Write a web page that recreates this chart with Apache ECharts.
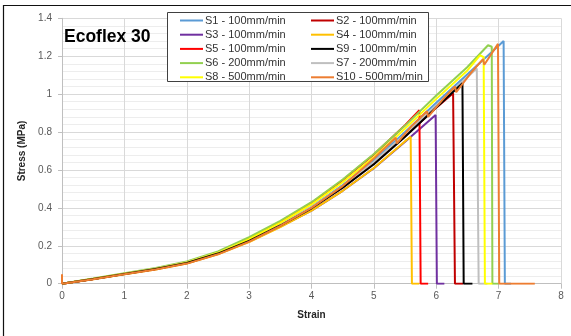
<!DOCTYPE html>
<html>
<head>
<meta charset="utf-8">
<script src="https://cdn.jsdelivr.net/npm/echarts@6/dist/echarts.min.js"></script>
<style>
  html, body { margin: 0; padding: 0; background: #fff; }
  #chart { width: 571px; height: 336px; }
</style>
</head>
<body>
<div id="chart"></div>
<script>
// ---- Data: [strain, stress (MPa)] ----
const seriesNames = ['S1 - 100mm/min', 'S2 - 100mm/min', 'S3 - 100mm/min', 'S4 - 100mm/min', 'S5 - 100mm/min',
                     'S6 - 200mm/min', 'S7 - 200mm/min', 'S8 - 500mm/min', 'S9 - 100mm/min', 'S10 - 500mm/min'];
const legendLeft = ['S1 - 100mm/min', 'S3 - 100mm/min', 'S5 - 100mm/min', 'S6 - 200mm/min', 'S8 - 500mm/min'];
const legendRight = ['S2 - 100mm/min', 'S4 - 100mm/min', 'S9 - 100mm/min', 'S7 - 200mm/min', 'S10 - 500mm/min'];
const seriesColors = ['#5B9BD5', '#C00000', '#7030A0', '#FFC000', '#FF0000', '#92D050', '#BFBFBF', '#FFFF00', '#000000', '#ED7D31'];

const s1 = [[0,0],[0.5,0.025],[1,0.051],[1.5,0.077],[2,0.109],[2.5,0.158],[3,0.230],[3.5,0.313],[4,0.405],[4.5,0.520],[5,0.650],[5.5,0.800],[6,0.955],[6.5,1.105],[7,1.255],[7.08,1.280],[7.10,0],[7.20,0]];
const s2 = [[0,0],[0.5,0.025],[1,0.052],[1.5,0.078],[2,0.110],[2.5,0.160],[3,0.229],[3.5,0.311],[4,0.400],[4.5,0.508],[5,0.633],[5.5,0.778],[6,0.928],[6.27,1.005],[6.30,0],[6.43,0]];
const s3 = [[0,0],[0.5,0.025],[1,0.051],[1.5,0.077],[2,0.108],[2.5,0.158],[3,0.222],[3.5,0.301],[4,0.385],[4.5,0.490],[5,0.609],[5.5,0.749],[5.99,0.890],[6.01,0],[6.13,0]];
const s4 = [[0,0],[0.5,0.024],[1,0.050],[1.5,0.075],[2,0.106],[2.5,0.155],[3,0.219],[3.5,0.298],[4,0.385],[4.5,0.490],[5,0.610],[5.5,0.752],[5.59,0.775],[5.61,0],[5.73,0]];
const s5 = [[0,0],[0.5,0.025],[1,0.052],[1.5,0.078],[2,0.110],[2.5,0.163],[3,0.238],[3.5,0.327],[4,0.426],[4.5,0.546],[5,0.681],[5.5,0.836],[5.73,0.915],[5.75,0],[5.87,0]];
const s6 = [[0,0],[0.5,0.027],[1,0.055],[1.5,0.083],[2,0.117],[2.5,0.170],[3,0.245],[3.5,0.332],[4,0.430],[4.5,0.550],[5,0.684],[5.5,0.834],[6,0.993],[6.5,1.143],[6.83,1.258],[6.89,1.250],[6.90,0],[7.00,0]];
const s7 = [[0,0],[0.5,0.026],[1,0.053],[1.5,0.080],[2,0.113],[2.5,0.164],[3,0.232],[3.5,0.313],[4,0.404],[4.5,0.515],[5,0.642],[5.5,0.789],[6,0.940],[6.5,1.090],[6.65,1.135],[6.68,0],[6.82,0]];
const s8 = [[0,0],[0.5,0.026],[1,0.053],[1.5,0.079],[2,0.112],[2.5,0.163],[3,0.235],[3.5,0.321],[4,0.418],[4.5,0.535],[5,0.667],[5.5,0.818],[6,0.975],[6.5,1.125],[6.70,1.205],[6.76,1.195],[6.78,0],[6.90,0]];
const s9 = [[0,0],[0.5,0.025],[1,0.051],[1.5,0.077],[2,0.109],[2.5,0.159],[3,0.226],[3.5,0.307],[4,0.398],[4.5,0.506],[5,0.630],[5.5,0.775],[6,0.930],[6.42,1.057],[6.44,0],[6.58,0]];
const s10 = [[0,0.05],[0,0],[0.5,0.023],[1,0.050],[1.5,0.075],[2,0.106],[2.5,0.155],[3,0.222],[3.5,0.305],[4,0.400],[4.5,0.515],[5,0.660],[5.35,0.770],[5.37,0.740],[5.6,0.830],[5.85,0.910],[5.87,0.880],[6.1,0.970],[6.3,1.040],[6.32,1.010],[6.55,1.110],[6.75,1.185],[6.77,1.155],[6.99,1.265],[7.01,0],[7.58,0]];
const seriesData = [s1, s2, s3, s4, s5, s6, s7, s8, s9, s10];

const xTicks = { min: 0, max: 8, interval: 1 };
const yTicks = { min: 0, max: 1.4, interval: 0.2 };

const chart = echarts.init(document.getElementById('chart'), null, { renderer: 'canvas' });
const FONT = '"Liberation Sans", Arial, sans-serif';

const legendCommon = {
  orient: 'vertical',
  top: 15,
  padding: 0,
  itemWidth: 23,
  itemHeight: 10,
  itemGap: 3.2,
  icon: 'path://M0,0 L23,0 L23,2 L0,2 Z',
  symbolKeepAspect: true,
  selectedMode: false,
  textStyle: { fontFamily: FONT, fontSize: 11, color: '#333333', padding: [0, 0, 0, -3] },
  z: 10
};

chart.setOption({
  animation: false,
  backgroundColor: '#fff',
  grid: { left: 62, right: 10, top: 18.3, bottom: 52.3, containLabel: false },
  xAxis: {
    type: 'value', min: xTicks.min, max: xTicks.max, interval: xTicks.interval,
    name: 'Strain', nameLocation: 'middle', nameGap: 27,
    nameTextStyle: { fontFamily: FONT, fontSize: 10, fontWeight: 'bold', color: '#262626' },
    axisLine: { show: true, onZero: false, lineStyle: { color: '#BFBFBF', width: 1 } },
    axisTick: { show: true, inside: false, length: 5, lineStyle: { color: '#BFBFBF' } },
    axisLabel: { fontFamily: FONT, fontSize: 10, color: '#595959', margin: 8 },
    splitLine: { show: true, lineStyle: { color: '#D9D9D9', width: 1 } }
  },
  yAxis: {
    type: 'value', min: yTicks.min, max: yTicks.max, interval: yTicks.interval,
    name: 'Stress (MPa)', nameLocation: 'middle', nameGap: 25, nameRotate: 90,
    nameTextStyle: { fontFamily: FONT, fontSize: 10, fontWeight: 'bold', color: '#262626' },
    axisLine: { show: true, lineStyle: { color: '#BFBFBF', width: 1 } },
    axisTick: { show: true, inside: false, length: 4, lineStyle: { color: '#BFBFBF' } },
    axisLabel: { fontFamily: FONT, fontSize: 10, color: '#595959', margin: 10 },
    splitLine: { show: true, lineStyle: { color: '#D9D9D9', width: 1 } },
    minorTick: { show: false, splitNumber: 5 },
    minorSplitLine: { show: true, lineStyle: { color: '#EDEDED', width: 1 } }
  },
  legend: [
    Object.assign({ left: 180, data: legendLeft }, legendCommon),
    Object.assign({ left: 311, data: legendRight }, legendCommon)
  ],
  graphic: [
    { type: 'rect', z: 5, shape: { x: 167.5, y: 12.5, width: 261, height: 69 },
      style: { fill: '#fff', stroke: '#404040', lineWidth: 1 } },
    { type: 'text', z: 6, x: 64, y: 37,
      style: { text: 'Ecoflex 30', font: 'bold 17.5px ' + FONT, fill: '#000', verticalAlign: 'middle' } },
    { type: 'rect', z: 20, shape: { x: 3.5, y: 5.5, width: 700, height: 500 },
      style: { fill: 'none', stroke: '#111', lineWidth: 1.2 } }
  ],
  series: seriesData.map((d, i) => ({
    name: seriesNames[i],
    type: 'line',
    data: d,
    symbol: 'none',
    showSymbol: false,
    smooth: false,
    clip: true,
    color: seriesColors[i],
    lineStyle: { color: seriesColors[i], width: 2 },
    z: 2 + i * 0.01
  }))
});
</script>
</body>
</html>
